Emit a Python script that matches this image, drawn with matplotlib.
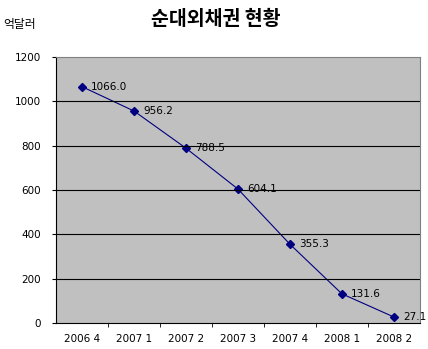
import matplotlib.pyplot as plt

plt.rcParams['font.family'] = ['DejaVu Sans', 'Noto Sans CJK KR']

quarters = ["2006 4", "2007 1", "2007 2", "2007 3", "2007 4", "2008 1", "2008 2"]
values = [1066.0, 956.2, 788.5, 604.1, 355.3, 131.6, 27.1]
yticks = [0, 200, 400, 600, 800, 1000, 1200]

fig = plt.figure(figsize=(4.28, 3.49), dpi=100)
ax = fig.add_axes([0.131, 0.0745, 0.85, 0.7622])
ax.set_facecolor('#C0C0C0')

x = list(range(len(quarters)))
ax.plot(x, values, color='#000080', lw=0.8, marker='D', ms=4, mfc='#000080', mec='#000080')
for xi, v in zip(x, values):
    ax.annotate(f"{v:.1f}", (xi, v), xytext=(6.5, 0), textcoords='offset points',
                va='center', ha='left', fontsize=7.5, annotation_clip=False)

ax.set_xlim(-0.5, len(quarters) - 0.5)
ax.set_ylim(0, 1200)
ax.set_yticks(yticks)
ax.set_yticklabels([str(t) for t in yticks], fontsize=7.5)
for t in yticks[1:-1]:
    ax.axhline(t, color='black', lw=0.8)

ax.set_xticks(x)
ax.set_xticklabels(quarters, fontsize=7.5)
ax.tick_params(axis='x', length=0, pad=8)
ax.set_xticks([i + 0.5 for i in x[:-1]], minor=True)
ax.tick_params(axis='x', which='minor', length=3, direction='out', color='black')
ax.tick_params(axis='y', length=3, direction='out', pad=8)

ax.spines['top'].set_color('#808080')
ax.spines['right'].set_color('#808080')
ax.spines['left'].set_color('black')
ax.spines['bottom'].set_color('black')

fig.text(0.503, 0.945, "순대외채권 현황", ha='center', va='center', fontsize=14,
         fontweight='bold', family=['Noto Sans CJK KR'])
fig.text(0.008, 0.931, "억달러", ha='left', va='center', fontsize=8.5,
         family=['Noto Sans CJK KR'])

fig.savefig('out.png', dpi=100)
